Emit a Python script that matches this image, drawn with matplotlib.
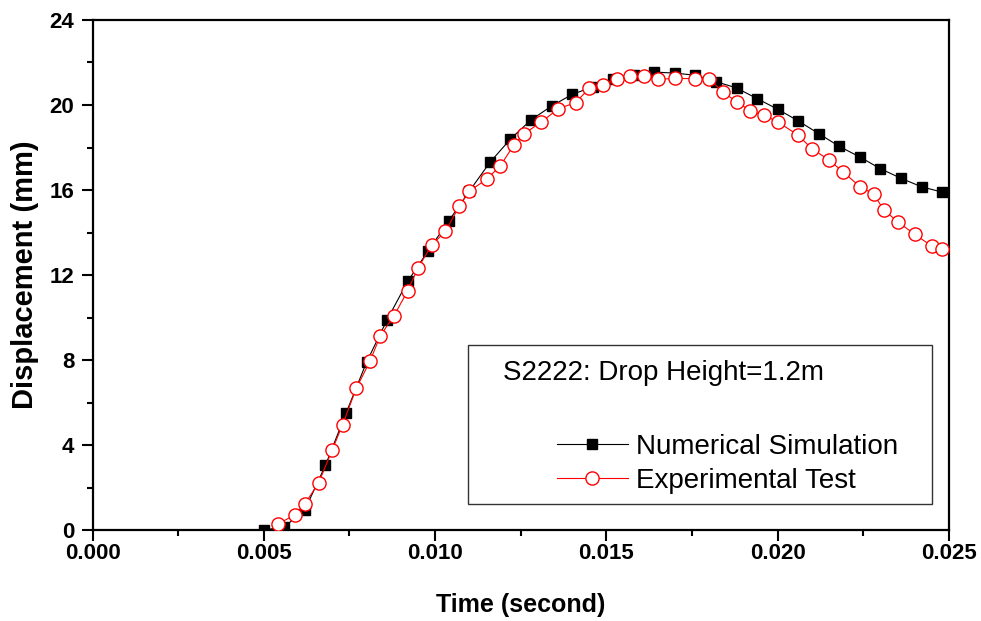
import matplotlib
matplotlib.use("Agg")
import matplotlib.pyplot as plt
from matplotlib.patches import Rectangle
from matplotlib.ticker import MultipleLocator, FormatStrFormatter

plt.rcParams['font.family'] = ['Liberation Sans', 'DejaVu Sans']

# numerical simulation (black squares)
num_t = [0.0050, 0.0056, 0.0062, 0.0068, 0.0074, 0.0080, 0.0086, 0.0092, 0.0098, 0.0104,
         0.0110, 0.0116, 0.0122, 0.0128, 0.0134, 0.0140, 0.0146, 0.0152, 0.0158, 0.0164,
         0.0170, 0.0176, 0.0182, 0.0188, 0.0194, 0.0200, 0.0206, 0.0212, 0.0218, 0.0224,
         0.0230, 0.0236, 0.0242, 0.0248]
num_y = [0.0, 0.15, 0.95, 3.05, 5.5, 7.9, 9.9, 11.7, 13.15, 14.55,
         15.95, 17.3, 18.4, 19.3, 19.95, 20.5, 20.85, 21.2, 21.4, 21.55,
         21.5, 21.4, 21.1, 20.8, 20.3, 19.8, 19.25, 18.65, 18.05, 17.55,
         17.0, 16.55, 16.15, 15.9]

# experimental test (red open circles)
exp_t = [0.0054, 0.0059, 0.0062, 0.0066, 0.0070, 0.0073, 0.0077, 0.0081, 0.0084, 0.0088,
         0.0092, 0.0095, 0.0099, 0.0103, 0.0107, 0.0110, 0.0115, 0.0119, 0.0123, 0.0126,
         0.0131, 0.0136, 0.0141, 0.0145, 0.0149, 0.0153, 0.0157, 0.0161, 0.0165, 0.0170,
         0.0176, 0.0180, 0.0184, 0.0188, 0.0192, 0.0196, 0.0200, 0.0206, 0.0210, 0.0215,
         0.0219, 0.0224, 0.0228, 0.0231, 0.0235, 0.0240, 0.0245, 0.0248]
exp_y = [0.27, 0.71, 1.24, 2.21, 3.78, 4.96, 6.67, 7.95, 9.14, 10.08,
         11.26, 12.33, 13.41, 14.05, 15.23, 15.95, 16.5, 17.13, 18.12, 18.65,
         19.2, 19.83, 20.11, 20.79, 20.93, 21.21, 21.36, 21.36, 21.21, 21.25,
         21.24, 21.24, 20.6, 20.16, 19.73, 19.51, 19.21, 18.57, 17.94, 17.41,
         16.86, 16.16, 15.80, 15.06, 14.51, 13.91, 13.36, 13.24]

fig = plt.figure(figsize=(9.81, 6.21), dpi=100)
ax = fig.add_axes([0.0943, 0.1465, 0.8731, 0.8213])

ax.plot(num_t, num_y, color='black', lw=0.8, marker='s', ms=7.5,
        mfc='black', mec='black', label='Numerical Simulation', zorder=3)
ax.plot(exp_t, exp_y, color='red', lw=0.8, marker='o', ms=9.5,
        mfc='white', mec='red', mew=1.0, label='Experimental Test', zorder=4)

ax.set_xlim(0, 0.025)
ax.set_ylim(0, 24)
ax.xaxis.set_major_locator(MultipleLocator(0.005))
ax.xaxis.set_minor_locator(MultipleLocator(0.0025))
ax.xaxis.set_major_formatter(FormatStrFormatter('%.3f'))
ax.yaxis.set_major_locator(MultipleLocator(4))
ax.yaxis.set_minor_locator(MultipleLocator(2))

for s in ax.spines.values():
  s.set_linewidth(1.6)
ax.tick_params(which='major', direction='out', length=8, width=1.5, labelsize=16)
ax.tick_params(which='minor', direction='out', length=4.5, width=1.5)
ax.tick_params(axis='x', pad=1)
ax.tick_params(axis='y', pad=5)
for lbl in ax.get_xticklabels() + ax.get_yticklabels():
  lbl.set_fontweight('bold')

ax.set_xlabel('Time (second)', fontsize=18, fontweight='bold', labelpad=21)
ax.set_ylabel('Displacement (mm)', fontsize=21, fontweight='bold', labelpad=8)

# legend box with title line
ax.add_patch(Rectangle((0.4384, 0.051), 0.5416, 0.3117, transform=ax.transAxes,
                       fill=False, ec='#333333', lw=1.0, zorder=5))
ax.text(0.479, 0.308, 'S2222: Drop Height=1.2m', transform=ax.transAxes,
        fontsize=20, va='center', ha='left', zorder=6)
ax.legend(loc='center left', bbox_to_anchor=(0.542, 0.13), frameon=False,
          fontsize=20, handlelength=2.55, handletextpad=0.3, borderpad=0,
          borderaxespad=0, labelspacing=0.28)

fig.savefig('out.png', dpi=100)
